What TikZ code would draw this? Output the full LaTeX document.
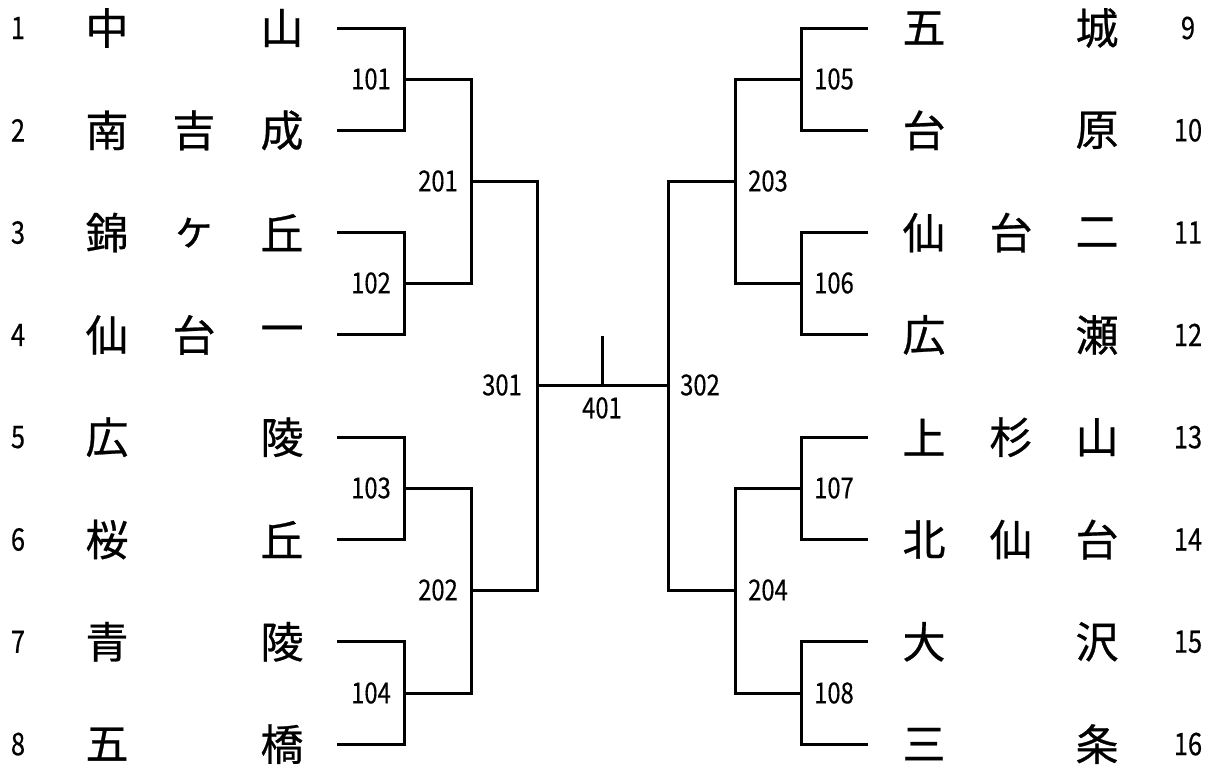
\documentclass[tikz,border=0pt]{standalone}
\usepackage{fontspec}
\setmainfont[FakeBold=0.6]{Noto Sans CJK JP}
\newfontfamily\numfont[FakeStretch=0.82, FakeBold=0.4]{Noto Sans CJK JP}
\usetikzlibrary{positioning}
\tikzset{
	team/.style={font=\fontsize{43}{43}\selectfont, inner sep=0pt},
	seed/.style={font=\numfont\fontsize{31}{31}\selectfont, inner sep=0pt},
	match/.style={font=\numfont\fontsize{29}{29}\selectfont, inner sep=0pt},
	bline/.style={line width=3pt},
}
\begin{document}
\begin{tikzpicture}[x=1pt, y=-1pt]
	\useasboundingbox (0,0) rectangle (1218,769);
	% Schulen links
	\foreach \i/\a/\b/\c in {1/中//山, 2/南/吉/成, 3/錦/ヶ/丘, 4/仙/台/一,
		5/広//陵, 6/桜//丘, 7/青//陵, 8/五//橋}{
		\pgfmathsetmacro{\ypos}{28+102.3*(\i-1)}
		\node[seed] (s\i) at (18, \ypos) {\i};
		\node[team] (a\i) at (107, \ypos) {\a};
		\node[team] (b\i) at (194, \ypos) {\b};
		\node[team] (c\i) at (282, \ypos) {\c};
		\coordinate (t\i) at (337, \ypos);
	}
	% Schulen rechts
	\foreach \i/\a/\b/\c in {9/五//城, 10/台//原, 11/仙/台/二, 12/広//瀬,
		13/上/杉/山, 14/北/仙/台, 15/大//沢, 16/三//条}{
		\pgfmathsetmacro{\ypos}{28+102.3*(\i-9)}
		\node[team] (a\i) at (924, \ypos) {\a};
		\node[team] (b\i) at (1011, \ypos) {\b};
		\node[team] (c\i) at (1097, \ypos) {\c};
		\node[seed] (s\i) at (1188, \ypos) {\i};
		\coordinate (t\i) at (868, \ypos);
	}

	% Knoten der Runden
	\coordinate (m101) at (404, 79);
	\coordinate (m102) at (404, 283);
	\coordinate (m103) at (404, 488);
	\coordinate (m104) at (404, 693);
	\coordinate (m201) at (471, 181);
	\coordinate (m202) at (471, 590);
	\coordinate (m301) at (537, 385);
	\coordinate (m105) at (801, 79);
	\coordinate (m106) at (801, 283);
	\coordinate (m107) at (801, 488);
	\coordinate (m108) at (801, 693);
	\coordinate (m203) at (735, 181);
	\coordinate (m204) at (735, 590);
	\coordinate (m302) at (668, 385);
	\coordinate (m401) at (602, 385);
	\coordinate (c401) at (602, 336);

	% Linien links
	\draw[bline] (t1) -| (m101) |- (t2);
	\draw[bline] (t3) -| (m102) |- (t4);
	\draw[bline] (t5) -| (m103) |- (t6);
	\draw[bline] (t7) -| (m104) |- (t8);
	\draw[bline] (m101) -| (m201) |- (m102);
	\draw[bline] (m103) -| (m202) |- (m104);
	\draw[bline] (m201) -| (m301) |- (m202);
	% Linien rechts
	\draw[bline] (t9) -| (m105) |- (t10);
	\draw[bline] (t11) -| (m106) |- (t12);
	\draw[bline] (t13) -| (m107) |- (t14);
	\draw[bline] (t15) -| (m108) |- (t16);
	\draw[bline] (m105) -| (m203) |- (m106);
	\draw[bline] (m107) -| (m204) |- (m108);
	\draw[bline] (m203) -| (m302) |- (m204);
	% Finale
	\draw[bline] (m301) -- (m302);
	\draw[bline] (m401) -- (c401);

	% Spielnummern
	\foreach \m in {101,102,103,104,201,202}
		\node[match, left=13pt of m\m] (l\m) {\m};
	\foreach \m in {105,106,107,108,203,204}
		\node[match, right=13pt of m\m] (l\m) {\m};
	\node[match, left=15pt of m301] (l301) {301};
	\node[match, right=12pt of m302] (l302) {302};
	\node[match, below=12pt of m401] (l401) {401};
\end{tikzpicture}
\end{document}
